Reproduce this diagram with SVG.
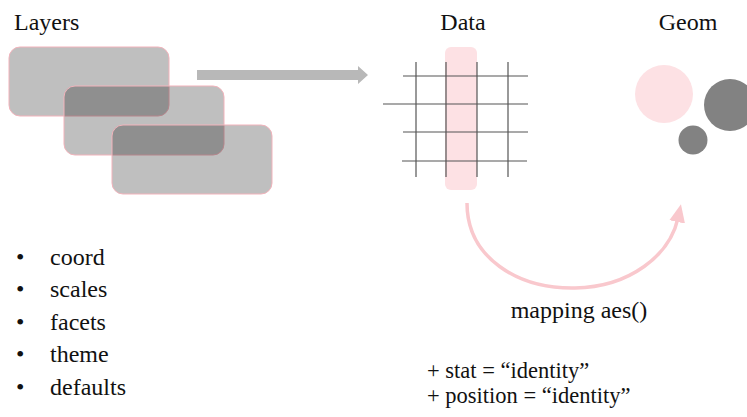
<svg xmlns="http://www.w3.org/2000/svg" width="747" height="417" viewBox="0 0 747 417">
<style>
text{font-family:'Liberation Serif','DejaVu Serif',serif;font-size:24px;fill:#111}
.small{font-size:22.5px}
.layer{fill:#000;fill-opacity:0.25;stroke:#f2b3bb;stroke-width:1}
.grid{stroke:#555;stroke-width:1.2}
.dark{fill:#828282}
</style>
<defs>
<marker id="pinkhead" markerWidth="18" markerHeight="16" refX="4" refY="8" orient="auto" markerUnits="userSpaceOnUse" viewBox="0 0 18 16">
<path d="M0,0 L18,8 L0,16 Z" fill="#f9c8cd"/>
</marker>
</defs>
<g id="layers">
<text x="14" y="30" font-family="Liberation Serif, serif">Layers</text>
<rect class="layer" x="9" y="47" width="160" height="69" rx="11"/>
<rect class="layer" x="64" y="86" width="160" height="69" rx="11"/>
<rect class="layer" x="112" y="125" width="160" height="69" rx="11"/>
</g>
<g id="data">
<text x="463" y="30" text-anchor="middle">Data</text>
<rect x="445" y="47" width="32" height="143" rx="6" fill="#fde1e4"/>
<line class="grid" x1="416" y1="62" x2="416" y2="177"/>
<line class="grid" x1="446" y1="62" x2="446" y2="177"/>
<line class="grid" x1="477" y1="62" x2="477" y2="177"/>
<line class="grid" x1="508" y1="62" x2="508" y2="177"/>
<line class="grid" x1="403" y1="76" x2="528" y2="76"/>
<line class="grid" x1="383" y1="104" x2="528" y2="104"/>
<line class="grid" x1="403" y1="132" x2="528" y2="132"/>
<line class="grid" x1="402" y1="161" x2="527" y2="161"/>
</g>
<g id="geom">
<text x="688" y="30" text-anchor="middle">Geom</text>
<circle cx="664" cy="94" r="29" fill="#fde1e4"/>
<circle class="dark" cx="730" cy="105" r="26"/>
<circle class="dark" cx="693" cy="140" r="14.5"/>
</g>
<g id="connectors">
<path d="M197,70 H358 V66 L368,75 L358,84 V80 H197 Z" fill="#b8b8b8"/>
<path d="M467,203 C467,258 518,289 575,288 C630,287 670,255 678,218" fill="none" stroke="#f9c8cd" stroke-width="3.5" marker-end="url(#pinkhead)"/>
</g>
<g id="mapping-label">
<text x="579" y="318" text-anchor="middle">mapping aes()</text>
<text class="small" x="427" y="378">+ stat = “identity”</text>
<text class="small" x="427" y="403">+ position = “identity”</text>
</g>
<g id="bullets">
<text x="16" y="265">•</text><text x="50" y="265">coord</text>
<text x="16" y="297">•</text><text x="50" y="297">scales</text>
<text x="16" y="330">•</text><text x="50" y="330">facets</text>
<text x="16" y="362">•</text><text x="50" y="362">theme</text>
<text x="16" y="395">•</text><text x="50" y="395">defaults</text>
</g>
</svg>
